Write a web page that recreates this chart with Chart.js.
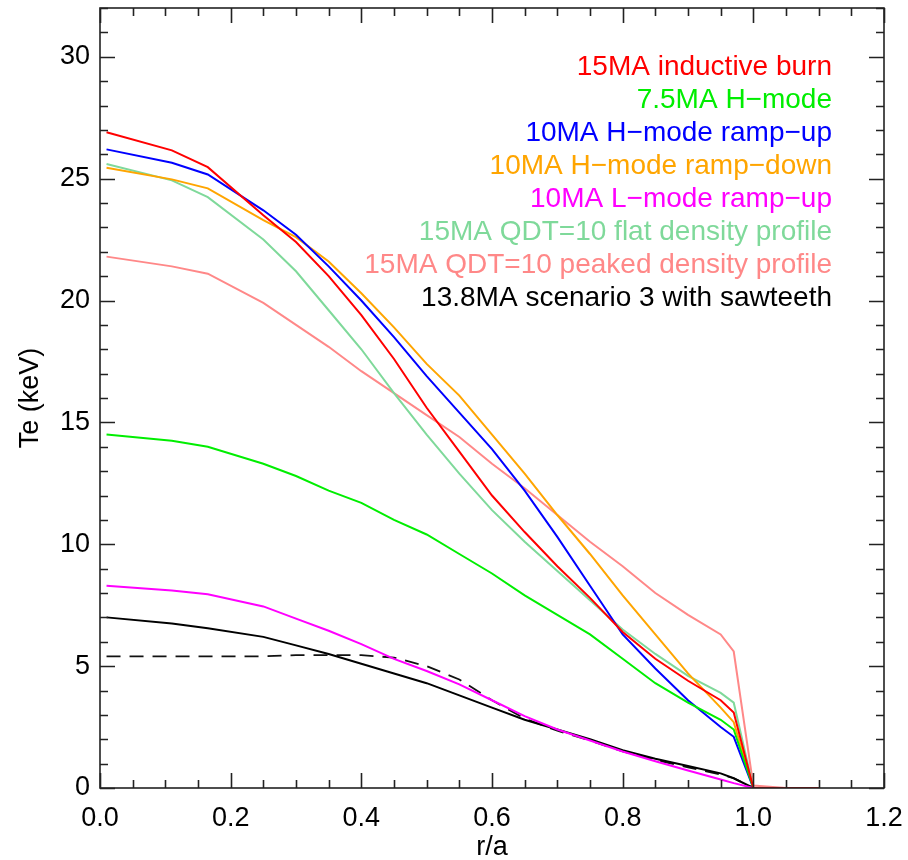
<!DOCTYPE html>
<html>
<head>
<meta charset="utf-8">
<script src="https://cdn.jsdelivr.net/npm/chart.js@4.4.1/dist/chart.umd.min.js"></script>
<style>
  html, body { margin: 0; padding: 0; background: #fff; }
  #wrap { width: 908px; height: 860px; }
</style>
</head>
<body>
<div id="wrap"><canvas id="myChart" width="908" height="860"></canvas></div>
<script>
// normalised radius r/a (shared by all profiles)
const r = [0.01, 0.11, 0.165, 0.25, 0.3, 0.35, 0.4, 0.45, 0.5, 0.55, 0.6, 0.65, 0.7, 0.75, 0.8, 0.85, 0.9, 0.95, 0.97, 1.0, 1.05, 1.1];

// Te profiles in keV
const inductive15 = [26.9, 26.16, 25.47, 23.5, 22.4, 21.0, 19.4, 17.6, 15.6, 13.8, 12.0, 10.5, 9.1, 7.8, 6.4, 5.3, 4.4, 3.6, 3.1, 0, 0, 0];
const hmode75 = [14.5, 14.25, 14.0, 13.3, 12.8, 12.2, 11.7, 11.0, 10.4, 9.6, 8.8, 7.9, 7.1, 6.3, 5.3, 4.3, 3.5, 2.8, 2.4, 0, 0, 0];
const hRampUp10 = [26.2, 25.65, 25.17, 23.7, 22.7, 21.4, 20.0, 18.5, 16.9, 15.4, 13.9, 12.2, 10.3, 8.3, 6.3, 4.9, 3.6, 2.5, 2.1, 0, 0, 0];
const hRampDown10 = [25.45, 24.97, 24.6, 23.3, 22.6, 21.6, 20.3, 18.9, 17.4, 16.1, 14.5, 12.9, 11.2, 9.6, 7.9, 6.3, 4.7, 3.3, 2.7, 0, 0, 0];
const lRampUp10 = [8.3, 8.1, 7.95, 7.45, 6.95, 6.45, 5.9, 5.3, 4.8, 4.25, 3.6, 2.95, 2.4, 1.95, 1.5, 1.1, 0.72, 0.35, 0.2, 0, 0, 0];
const qdtFlat = [25.6, 24.93, 24.24, 22.5, 21.2, 19.6, 18.0, 16.2, 14.5, 12.9, 11.4, 10.1, 8.9, 7.7, 6.5, 5.5, 4.6, 3.9, 3.5, 0, 0, 0];
const qdtPeaked = [21.8, 21.4, 21.1, 19.9, 19.0, 18.1, 17.1, 16.2, 15.3, 14.4, 13.3, 12.3, 11.2, 10.1, 9.1, 8.0, 7.1, 6.3, 5.6, 0.1, 0, 0];
const sawteeth = [7.0, 6.75, 6.55, 6.2, 5.85, 5.5, 5.1, 4.7, 4.3, 3.8, 3.3, 2.8, 2.4, 2.0, 1.55, 1.2, 0.9, 0.6, 0.4, 0, 0, 0];
const sawteethAvg = [5.4, 5.4, 5.4, 5.4, 5.45, 5.45, 5.45, 5.35, 5.0, 4.45, 3.6, 2.85, 2.35, 1.95, 1.5, 1.15, 0.85, 0.55, 0.4, 0, 0, 0];

const names = ['15MA inductive burn', '7.5MA H\u2212mode', '10MA H\u2212mode ramp\u2212up', '10MA H\u2212mode ramp\u2212down',
  '10MA L\u2212mode ramp\u2212up', '15MA QDT=10 flat density profile', '15MA QDT=10 peaked density profile', '13.8MA scenario 3 with sawteeth'];
const colors = ['#ff0000', '#00ee00', '#0000ff', '#ffa500', '#ff00ff', '#7fd99a', '#ff8888', '#000000'];
const series = [inductive15, hmode75, hRampUp10, hRampDown10, lRampUp10, qdtFlat, qdtPeaked, sawteeth];

const xTicks = [0, 0.2, 0.4, 0.6, 0.8, 1.0, 1.2];
const yTicks = [0, 5, 10, 15, 20, 25, 30];

function pts(vals) {
  return vals.map((v, i) => ({x: r[i], y: v}));
}

const datasets = series.map((s, i) => ({
  label: names[i],
  data: pts(s),
  borderColor: colors[i],
  borderWidth: 2,
  pointRadius: 0,
  tension: 0,
  fill: false
}));
datasets.push({
  label: 'sawteeth average',
  data: pts(sawteethAvg),
  borderColor: '#111111',
  borderWidth: 1.8,
  borderDash: [14, 9],
  pointRadius: 0,
  fill: false
});

// inward tick marks on all four sides, plus the coloured key at top right
const frame = {
  id: 'frame',
  afterDraw(chart) {
    const {ctx, chartArea: a, scales: {x, y}} = chart;
    ctx.save();
    ctx.strokeStyle = '#222';
    ctx.lineWidth = 1.6;
    ctx.strokeRect(a.left, a.top, a.right - a.left, a.bottom - a.top);
    ctx.beginPath();
    for (let k = 0; k <= 24; k++) {
      const px = Math.round(x.getPixelForValue(k * 0.05)) + 0.5;
      const len = k % 4 === 0 ? 15 : 8;
      ctx.moveTo(px, a.bottom); ctx.lineTo(px, a.bottom - len);
      ctx.moveTo(px, a.top); ctx.lineTo(px, a.top + len);
    }
    for (let k = 0; k <= 32; k++) {
      const py = Math.round(y.getPixelForValue(k)) + 0.5;
      const len = k % 5 === 0 ? 15 : 8;
      ctx.moveTo(a.left, py); ctx.lineTo(a.left + len, py);
      ctx.moveTo(a.right, py); ctx.lineTo(a.right - len, py);
    }
    ctx.stroke();

    ctx.font = '28px "Liberation Sans", Arial, sans-serif';
    ctx.textAlign = 'right';
    ctx.textBaseline = 'alphabetic';
    names.forEach((n, i) => {
      ctx.fillStyle = colors[i];
      ctx.fillText(n, 832, 75 + i * 33);
    });
    ctx.restore();
  }
};

const ctx = document.getElementById('myChart').getContext('2d');
const myChart = new Chart(ctx, {
  type: 'line',
  data: { datasets: datasets },
  options: {
    responsive: false,
    animation: false,
    layout: { padding: { top: 8, right: 24, left: 0, bottom: 0 } },
    plugins: { legend: { display: false }, tooltip: { enabled: false } },
    scales: {
      x: {
        type: 'linear',
        min: 0,
        max: 1.2,
        afterFit: s => { s.height = 72; s.paddingLeft = 0; s.paddingRight = 0; },
        afterBuildTicks: s => { s.ticks = xTicks.map(v => ({value: v})); },
        ticks: {
          color: '#000',
          padding: 14,
          font: { family: '"Liberation Sans", Arial, sans-serif', size: 27 },
          callback: v => v.toFixed(1)
        },
        grid: { display: false, drawTicks: false },
        border: { display: false },
        title: {
          display: true,
          text: 'r/a',
          color: '#000',
          padding: 0,
          font: { family: '"Liberation Sans", Arial, sans-serif', size: 27, lineHeight: 0.9 }
        }
      },
      y: {
        min: 0,
        max: 32,
        afterFit: s => { s.width = 100; s.paddingTop = 0; s.paddingBottom = 0; },
        afterBuildTicks: s => { s.ticks = yTicks.map(v => ({value: v})); },
        ticks: {
          color: '#000',
          padding: 10,
          font: { family: '"Liberation Sans", Arial, sans-serif', size: 27 }
        },
        grid: { display: false, drawTicks: false },
        border: { display: false },
        title: {
          display: true,
          text: 'Te (keV)',
          color: '#000',
          padding: { top: 14, bottom: 0 },
          font: { family: '"Liberation Sans", Arial, sans-serif', size: 27 }
        }
      }
    }
  },
  plugins: [frame]
});
</script>
</body>
</html>
